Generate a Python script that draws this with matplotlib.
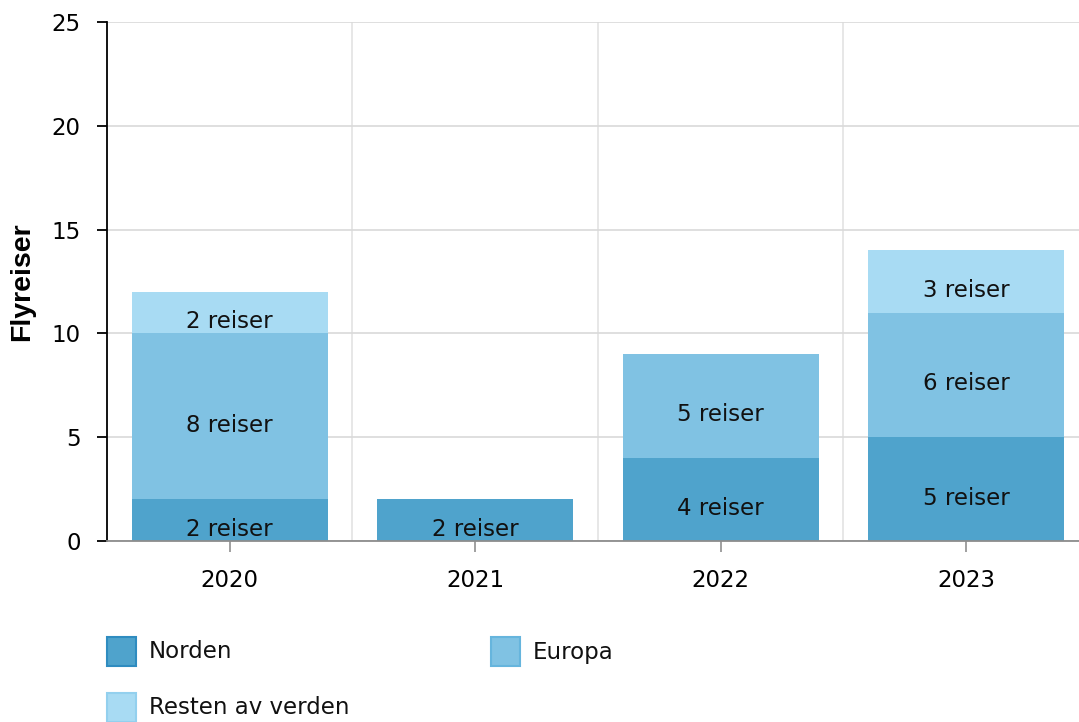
import numpy as np
import matplotlib
matplotlib.use("Agg")
import matplotlib.pyplot as plt
from matplotlib.patches import Rectangle

# Data
years = ["2020", "2021", "2022", "2023"]
series = ["Norden", "Europa", "Resten av verden"]
norden = [2, 2, 4, 5]
europa = [8, 0, 5, 6]
resten = [2, 0, 0, 3]
values = [norden, europa, resten]

colors = ["#4FA3CC", "#80C2E3", "#A8DBF3"]
edges = ["#2F8CC0", "#66B5DD", "#93D0EE"]

plt.rcParams["font.family"] = "DejaVu Sans"
fs = 16.5

fig = plt.figure(figsize=(10.79, 7.22), dpi=100)
ax = fig.add_axes([107 / 1079, 1 - 541 / 722, 982 / 1079, 519 / 722])

x = np.arange(len(years))
bottom = np.zeros(len(years))
for vals, name, col in zip(values, series, colors):
    vals = np.array(vals, dtype=float)
    ax.bar(x, vals, width=0.8, bottom=bottom, color=col, label=name, zorder=2)
    for xi, v, b in zip(x, vals, bottom):
        if v > 0:
            ax.text(xi, b + v / 2 - 0.43, f"{int(v)} reiser", ha="center", va="center",
                    fontsize=fs, color="#111111", zorder=3)
    bottom += vals

ax.set_xlim(-0.5, 3.5)
ax.set_ylim(0, 25)
ax.set_yticks([0, 5, 10, 15, 20, 25])
ax.set_xticks(x)
ax.set_xticklabels(years)
ax.set_xticks([0.5, 1.5, 2.5], minor=True)

ax.grid(axis="y", color="#D9D9D9", linewidth=1.2, zorder=0)
ax.grid(axis="x", which="minor", color="#E3E3E3", linewidth=1.2, zorder=0)
ax.set_axisbelow(True)

for s in ["top", "right"]:
    ax.spines[s].set_visible(False)
ax.spines["left"].set_color("black")
ax.spines["left"].set_linewidth(1.3)
ax.spines["bottom"].set_color("#8C8C8C")
ax.spines["bottom"].set_linewidth(1.3)

ax.tick_params(axis="y", length=7, width=1.3, color="black", labelsize=fs, pad=12)
ax.tick_params(axis="x", which="major", length=8, width=1.3, color="#999999",
               labelsize=fs, pad=12)
ax.tick_params(axis="x", which="minor", length=0)

# y axis title
fig.text(22 / 1079, 1 - 282 / 722, "Flyreiser", rotation=90, ha="center", va="center",
         fontsize=20.5, fontweight="bold", family="Liberation Sans")

# Legend
leg_pos = [(107, 636), (491, 636), (107, 692)]
for (px, py), name, col, ec in zip(leg_pos, series, colors, edges):
    fig.patches.append(Rectangle((px / 1079, 1 - (py + 30) / 722), 29 / 1079, 29 / 722,
                                 transform=fig.transFigure, facecolor=col,
                                 edgecolor=ec, linewidth=1.5))
    fig.text((px + 42) / 1079, 1 - (py + 16) / 722, name, fontsize=fs,
             va="center", ha="left", color="#111111")

fig.savefig("out.png", dpi=100)
